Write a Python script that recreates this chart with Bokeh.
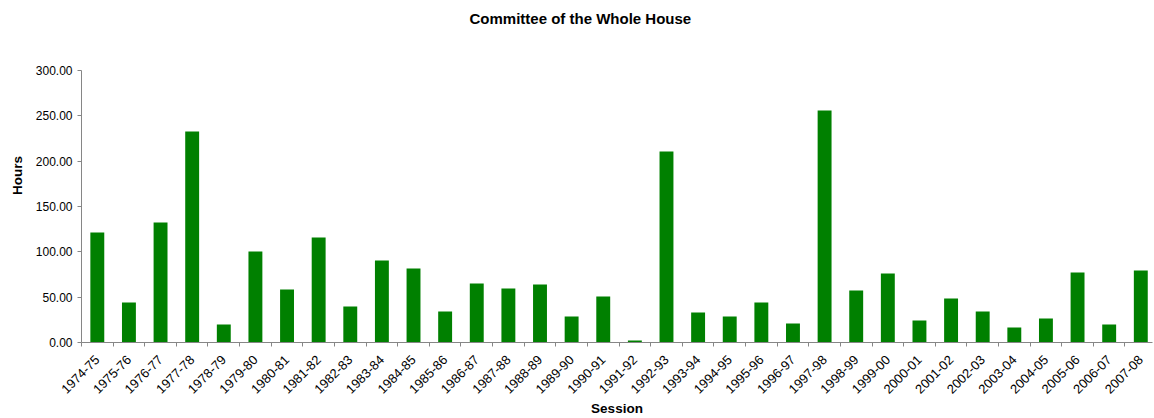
import math
from bokeh.plotting import figure
from bokeh.models import Range1d, FixedTicker, NumeralTickFormatter, ColumnDataSource, Label
from bokeh.embed import file_html
from bokeh.resources import INLINE

sessions = ["1974-75", "1975-76", "1976-77", "1977-78", "1978-79", "1979-80", "1980-81",
            "1981-82", "1982-83", "1983-84", "1984-85", "1985-86", "1986-87", "1987-88",
            "1988-89", "1989-90", "1990-91", "1991-92", "1992-93", "1993-94", "1994-95",
            "1995-96", "1996-97", "1997-98", "1998-99", "1999-00", "2000-01", "2001-02",
            "2002-03", "2003-04", "2004-05", "2005-06", "2006-07", "2007-08"]
hours = [121.3, 44.1, 132.4, 232.7, 19.9, 100.4, 58.5, 115.8, 39.7, 90.4, 81.6, 34.2,
         65.1, 59.6, 64.0, 28.7, 50.7, 2.2, 210.7, 33.1, 28.7, 44.1, 21.0, 255.9, 57.4,
         76.1, 24.3, 48.5, 34.2, 16.5, 26.5, 77.2, 19.9, 79.4]
y_ticks = [0, 50, 100, 150, 200, 250, 300]
title_text = "Committee of the Whole House"

FONT = "Liberation Sans"
n = len(sessions)
centers = [i + 0.5 for i in range(n)]
src = ColumnDataSource(dict(x=centers, top=hours, label=sessions))

# frame spans the title area too; the y axis line is bounded to 0..300
Y_MAX = 300
Y_VIEW_END = 368.4
p = figure(width=1154, height=418, output_backend="svg", toolbar_location=None,
           x_range=Range1d(0, n - 0.13), y_range=Range1d(0, Y_VIEW_END),
           min_border_left=81, min_border_right=2, min_border_top=8, min_border_bottom=76)
p.title = None

p.vbar(x="x", top="top", width=0.44, source=src, fill_color="#008000", line_color=None)

# screen units are relative to the frame's bottom-left corner
p.add_layout(Label(x=388, y=324, x_units="screen", y_units="screen", text=title_text,
                   text_align="left", text_baseline="middle",
                   text_font=FONT, text_font_size="15px", text_font_style="bold",
                   text_color="black"))

p.grid.visible = False
p.outline_line_color = None
p.background_fill_color = "white"
p.border_fill_color = "white"

xa = p.xaxis[0]
xa.ticker = FixedTicker(ticks=centers, minor_ticks=list(range(n + 1)))
xa.major_label_overrides = {c: s for c, s in zip(centers, sessions)}
xa.major_label_orientation = math.pi / 4
xa.major_tick_line_color = None
xa.major_tick_in = 0
xa.major_tick_out = 4
xa.minor_tick_in = 0
xa.minor_tick_out = 4
xa.minor_tick_line_color = "#868686"
xa.axis_line_color = "#868686"
xa.major_label_text_font = FONT
xa.major_label_text_font_size = "13px"
xa.major_label_text_color = "black"
xa.major_label_standoff = 11
xa.axis_label = "Session"
xa.axis_label_text_font = FONT
xa.axis_label_text_font_size = "13.5px"
xa.axis_label_text_font_style = "bold"
xa.axis_label_text_color = "black"
xa.axis_label_standoff = 0

ya = p.yaxis[0]
ya.ticker = FixedTicker(ticks=y_ticks)
ya.bounds = (0, Y_MAX)
ya.formatter = NumeralTickFormatter(format="0.00")
ya.minor_tick_line_color = None
ya.major_tick_in = 0
ya.major_tick_out = 4
ya.major_tick_line_color = "#868686"
ya.axis_line_color = "#868686"
ya.major_label_text_font = FONT
ya.major_label_text_font_size = "12px"
ya.major_label_text_color = "black"
ya.major_label_standoff = 5
ya.axis_label = "Hours"
ya.axis_label_text_font = FONT
ya.axis_label_text_font_size = "13.5px"
ya.axis_label_text_font_style = "bold"
ya.axis_label_text_color = "black"
ya.axis_label_standoff = 8

open("out.html", "w").write(file_html(p, INLINE))
